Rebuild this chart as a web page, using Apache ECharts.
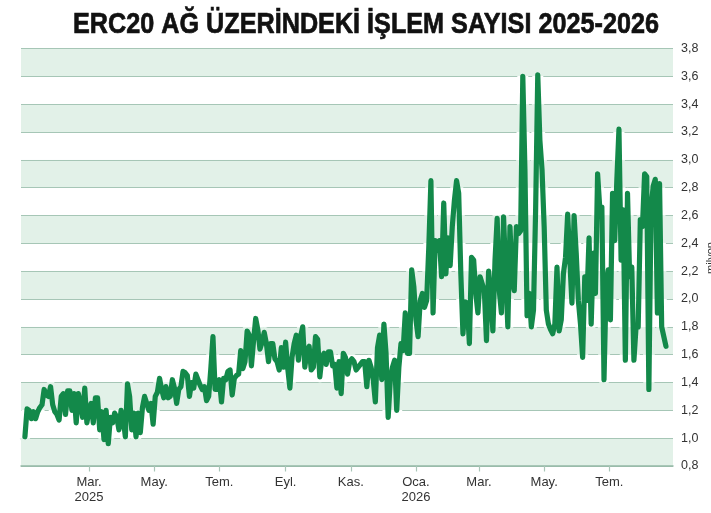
<!DOCTYPE html>
<html>
<head>
<meta charset="utf-8">
<script src="https://cdn.jsdelivr.net/npm/echarts@6/dist/echarts.min.js"></script>
<style>
html,body{margin:0;padding:0;background:#fff;}
#chart{width:711px;height:513px;}
</style>
</head>
<body>
<div id="chart"></div>
<script>
// ---- data ----
const titleText = 'ERC20 AĞ ÜZERİNDEKİ İŞLEM SAYISI 2025-2026';
const unitText = 'milyon';
const firstDate = '2024-12-31';
const stepDays = 2;
// through end of 2025
const valuesPart1 = [
1.01,1.21,1.20,1.14,1.19,1.14,1.19,1.22,1.24,1.35,
1.31,1.30,1.37,1.24,1.19,1.17,1.13,1.30,1.32,1.17,
1.34,1.34,1.20,1.32,1.11,1.32,1.25,1.15,1.36,1.11,
1.20,1.25,1.11,1.29,1.29,1.06,1.19,0.99,1.20,0.96,
1.15,1.11,1.18,1.15,1.06,1.20,1.14,1.01,1.39,1.30,
1.06,1.18,1.01,1.18,1.04,1.22,
1.30,1.25,1.20,1.25,1.10,1.30,1.33,1.43,1.35,1.29,
1.37,1.29,1.30,1.42,1.36,1.25,1.35,1.37,1.48,1.47,1.45,
1.30,1.40,1.36,1.46,1.42,1.38,1.35,1.37,1.27,1.30,
1.50,1.73,1.35,1.35,1.42,1.26,1.43,1.42,1.48,1.49,
1.31,1.43,1.45,1.46,1.63,1.50,1.55,1.77,1.74,1.52,
1.70,1.86,1.78,1.64,1.69,1.76,1.68,1.55,1.68,1.68,
1.57,1.55,1.49,1.65,1.51,1.69,1.50,1.36,1.58,1.68,
1.74,1.56,1.73,1.80,1.51,1.63,1.66,1.49,1.51,1.73,
1.71,1.44,1.58,1.61,1.53,1.62,1.62,1.52,1.53,1.36,
1.55,1.32,1.61,1.58,1.46,1.55,1.57,1.55,1.49,1.51,1.53,
1.55,1.55,1.37,1.56,1.51,1.42,1.26,1.65,1.74,1.42,
1.82,1.61,1.15,1.42,1.51,1.56,1.20,1.51,1.68,1.63,
1.90,1.61,1.61,2.21,2.09,1.85,1.73
];
// 2026
const valuesPart2 = [
1.99,2.04,1.94,
1.99,2.37,2.85,1.90,2.42,2.35,2.42,2.16,2.69,2.18,
2.44,2.24,2.52,2.71,2.85,2.76,2.18,1.75,1.98,1.97,
1.68,2.30,2.28,2.04,1.90,2.16,2.11,2.06,1.70,2.20,
2.04,1.77,2.28,2.58,2.06,1.90,2.59,2.18,1.80,2.52,
2.14,2.06,2.52,2.47,2.49,3.60,2.93,1.88,2.04,1.80,
1.92,2.64,3.61,3.14,2.93,2.52,1.92,1.82,1.78,1.75,1.82,
2.23,1.77,1.85,2.18,2.30,2.61,2.28,1.97,2.60,2.33,
1.99,1.82,1.58,2.16,1.99,2.44,1.82,2.33,2.04,2.90,
2.66,2.66,1.42,2.09,2.21,1.85,2.76,2.42,2.85,3.22,
2.28,2.64,1.56,2.76,2.16,2.23,1.56,1.80,1.80,2.57,
2.52,2.90,2.88,1.35,2.64,2.81,2.86,1.90,2.83,1.80,1.73,1.66
];
const tickDates = ['2025-03-01','2025-05-01','2025-07-01','2025-09-01','2025-11-01','2026-01-01','2026-03-01','2026-05-01','2026-07-01'];
const tickLabels = ['Mar.\n2025','May.','Tem.','Eyl.','Kas.','Oca.\n2026','Mar.','May.','Tem.'];
const axisStart = '2024-12-27T08:00:00Z';
const axisEnd = '2026-08-29T14:00:00Z';
const yMin = 0.8, yMax = 3.8, yStep = 0.2;

// ---- build ----
const DAY = 864e5;
const t0 = Date.parse(firstDate + 'T00:00:00Z');
const allValues = valuesPart1.concat(valuesPart2);
const seriesData = allValues.map((v, i) => [t0 + i * stepDays * DAY, v]);
const tickTs = tickDates.map(d => Date.parse(d + 'T00:00:00Z'));

const BAND_GREEN = '#e2f1e8';
const GRID_COLOR = '#a6c6b6';
const LINE_COLOR = '#13894a';
const FONT = '"Liberation Sans", Arial, sans-serif';

const chart = echarts.init(document.getElementById('chart'), null, {renderer: 'canvas'});

const option = {
  animation: false,
  backgroundColor: '#ffffff',
  grid: {left: 21, right: 38, top: 48.5, bottom: 47, containLabel: false},
  xAxis: {
    type: 'value',
    min: Date.parse(axisStart),
    max: Date.parse(axisEnd),
    axisLine: {show: true, lineStyle: {color: '#95b9a7', width: 1.5}},
    axisTick: {show: true, length: 5.5, customValues: tickTs, lineStyle: {color: '#a9c6b8', width: 1.2}},
    axisLabel: {
      show: true,
      customValues: tickTs,
      margin: 9,
      color: '#333',
      fontSize: 13,
      lineHeight: 15,
      fontFamily: FONT,
      formatter: function (val) {
        const k = tickTs.indexOf(Number(val));
        return k >= 0 ? tickLabels[k] : '';
      }
    },
    splitLine: {show: false}
  },
  yAxis: {
    type: 'value',
    position: 'right',
    min: yMin,
    max: yMax,
    interval: yStep,
    axisLine: {show: false},
    axisTick: {show: false},
    axisLabel: {
      margin: 8,
      color: '#333',
      fontSize: 12.5,
      fontFamily: FONT,
      formatter: v => Number(v).toFixed(1).replace('.', ',')
    },
    splitLine: {show: true, lineStyle: {color: GRID_COLOR, width: 1.2}},
    splitArea: {show: true, areaStyle: {color: [BAND_GREEN, '#ffffff']}}
  },
  graphic: [
    {
      type: 'text', x: 366, y: 25, scaleX: 0.84, z: 10,
      style: {text: titleText, font: 'bold 30px ' + FONT, fill: '#111', stroke: '#111', lineWidth: 0.7, textAlign: 'center', textVerticalAlign: 'middle'}
    },
    {
      type: 'text', x: 705, y: 258, rotation: Math.PI / 2, z: 10,
      style: {text: unitText, font: '11px ' + FONT, fill: '#333', textAlign: 'center', textVerticalAlign: 'top'}
    }
  ],
  series: [
    {
      name: 'halo', type: 'line', data: seriesData, showSymbol: false, silent: true, z: 2,
      lineStyle: {width: 11, color: '#ffffff', join: 'round', cap: 'round'}
    },
    {
      name: 'İşlem', type: 'line', data: seriesData, showSymbol: false, z: 3,
      lineStyle: {width: 5.2, color: LINE_COLOR, join: 'round', cap: 'round'}
    }
  ]
};
chart.setOption(option);

// halo colored like the bands beneath it, so it only breaks the grid lines
const yTop = chart.convertToPixel({yAxisIndex: 0}, yMax);
const yBot = chart.convertToPixel({yAxisIndex: 0}, yMin);
const nBands = Math.round((yMax - yMin) / yStep);
const stops = [];
for (let k = 0; k < nBands; k++) {
  const c = (k % 2 === 0) ? BAND_GREEN : '#ffffff';
  stops.push({offset: k / nBands, color: c});
  stops.push({offset: (k + 1) / nBands, color: c});
}
chart.setOption({
  series: [{name: 'halo', lineStyle: {color: new echarts.graphic.LinearGradient(0, yTop, 0, yBot, stops, true)}}]
});
</script>
</body>
</html>
